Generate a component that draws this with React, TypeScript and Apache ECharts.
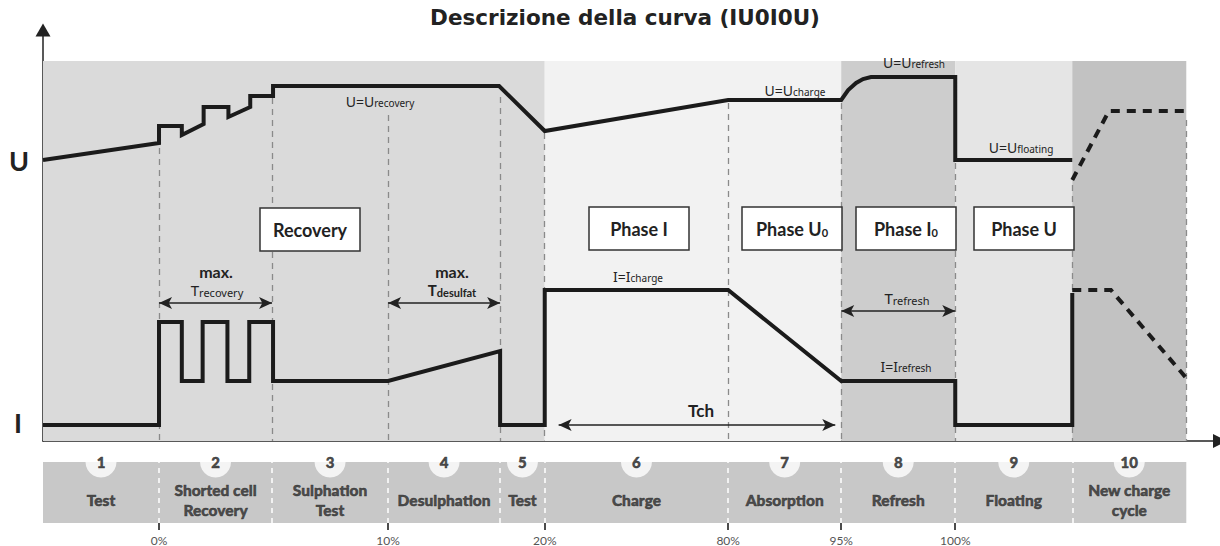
import React, { useEffect, useRef } from "react";
import * as echarts from "echarts";

// ---------- data ----------
const stageBounds = [0, 117, 231, 348, 461, 506, 691, 805, 920, 1038, 1153];
const stageNumbers = ["1", "2", "3", "4", "5", "6", "7", "8", "9", "10"];
const stageNames = [
  "Test",
  "Shorted cell\nRecovery",
  "Sulphation\nTest",
  "Desulphation",
  "Test",
  "Charge",
  "Absorption",
  "Refresh",
  "Floating",
  "New charge\ncycle",
];
const percentTicks = [117, 348, 506, 691, 805, 920];
const percentLabels = ["0%", "10%", "20%", "80%", "95%", "100%"];
const phaseZones = [
  [0, 506],
  [506, 805],
  [805, 920],
  [920, 1038],
  [1038, 1153],
];
const zoneTop = 380;
const guideTops = [293, 343, 326, 344, 308, 338, 338, 278, 256, 321];

const voltage = [
  [0, 281], [117, 298], [117, 315], [140, 315], [140, 306], [162, 317], [162, 334],
  [187, 334], [187, 324], [209, 334], [209, 345], [232, 345], [232, 355], [460, 355],
  [506, 310], [691, 341], [805, 341], [812, 351], [820, 358], [827, 362], [835, 364],
  [920, 364], [920, 281], [1038, 281],
];
const voltageNext = [[1038, 261], [1075, 330], [1153, 330]];
const current = [
  [0, 16], [117, 16], [117, 119], [140, 119], [140, 60], [161, 60], [161, 119],
  [186, 119], [186, 60], [208, 60], [208, 119], [232, 119], [232, 60], [348, 60],
  [461, 90], [461, 16], [506, 16], [506, 151], [691, 151], [805, 60], [920, 60],
  [920, 16], [1038, 16], [1038, 148],
];
const currentNext = [[1038, 151], [1077, 151], [1153, 63]];
const durationArrows = [
  [[117, 138], [231, 138]],
  [[348, 138], [461, 138]],
  [[805, 130], [920, 130]],
  [[520, 16], [799, 16]],
];

// ---------- styles ----------
const FONT = 'Lato, "Noto Sans", sans-serif';
const FONT2 = '"Noto Sans", "Open Sans", sans-serif';
const zoneColors = ["#dadada", "#f2f2f2", "#cdcdcd", "#e5e5e5", "#c2c2c2"];
const INK = "#1b1b1b";

const stageCenters = stageNumbers.map((_, i) => (stageBounds[i] + stageBounds[i + 1]) / 2);

const richBase = (main: number, sub: number, weight: any = "normal", family = FONT) => ({
  m: { fontSize: main, fontFamily: family, fontWeight: weight, fill: "#222", color: "#222", verticalAlign: "bottom" },
  s: { fontSize: sub, fontFamily: family, fontWeight: weight, fill: "#222", color: "#222", verticalAlign: "bottom" },
});

const textEl = (
  x: number,
  y: number,
  text: string,
  main = 14,
  sub = 10,
  weight: any = "normal",
  family = FONT2
) => ({
  type: "text",
  x,
  y,
  z: 100,
  style: {
    text,
    align: "center",
    verticalAlign: "middle",
    rich: richBase(main, sub, weight, family),
  },
});

const boxEl = (x: number, y: number, text: string) => ({
  type: "group",
  z: 100,
  children: [
    {
      type: "rect",
      z: 100,
      shape: { x, y, width: 100, height: 43 },
      style: { fill: "#fff", stroke: "#333", lineWidth: 1.5 },
    },
    {
      type: "text",
      z: 101,
      x: x + 50,
      y: y + 22,
      style: {
        text,
        align: "center",
        verticalAlign: "middle",
        rich: richBase(18, 11, "bold", FONT),
      },
    },
  ],
});

function buildOption(): any {
  return {
    animation: false,
    backgroundColor: "#fff",
    grid: [
      { left: 43, top: 30, width: 1187, height: 411 },
      { left: 43, top: 462, width: 1187, height: 63 },
    ],
    xAxis: [
      {
        gridIndex: 0,
        type: "value",
        min: 0,
        max: 1187,
        axisLine: {
          show: true,
          symbol: ["none", "triangle"],
          symbolSize: [14, 14],
          lineStyle: { color: "#222", width: 1.5 },
        },
        axisTick: { show: false },
        axisLabel: { show: false },
        splitLine: { show: false },
      },
      {
        gridIndex: 1,
        type: "value",
        min: 0,
        max: 1187,
        axisLine: { show: false },
        axisTick: {
          show: true,
          customValues: percentTicks,
          length: 7,
          lineStyle: { color: "#111", width: 1.5 },
        },
        axisLabel: {
          show: true,
          customValues: percentTicks,
          formatter: (v: number) => percentLabels[percentTicks.indexOf(v)] ?? "",
          color: "#555",
          fontFamily: FONT,
          fontSize: 12,
          margin: 11,
        },
        splitLine: { show: false },
      },
    ],
    yAxis: [
      {
        gridIndex: 0,
        type: "value",
        min: 0,
        max: 411,
        axisLine: {
          show: true,
          symbol: ["none", "triangle"],
          symbolSize: [15, 13],
          lineStyle: { color: "#222", width: 1.5 },
        },
        axisTick: { show: false },
        axisLabel: { show: false },
        splitLine: { show: false },
      },
      { gridIndex: 1, type: "value", min: 0, max: 1, show: false },
    ],
    series: [
      {
        name: "zones",
        type: "line",
        data: [[0, 0]],
        showSymbol: false,
        lineStyle: { width: 0 },
        z: 1,
        silent: true,
        markArea: {
          silent: true,
          data: phaseZones.map((zn, i) => [
            { xAxis: zn[0], yAxis: 0, itemStyle: { color: zoneColors[i] } },
            { xAxis: zn[1], yAxis: zoneTop },
          ]),
        },
        markLine: {
          silent: true,
          symbol: ["none", "none"],
          label: { show: false },
          lineStyle: { type: [6, 5], color: "#8a8a8a", width: 1.3 },
          data: stageBounds.slice(1).map((x, i) => [
            { coord: [x, guideTops[i]] },
            { coord: [x, 0] },
          ]),
        },
      },
      {
        name: "U",
        type: "line",
        data: voltage,
        showSymbol: false,
        z: 5,
        lineStyle: { color: INK, width: 4, join: "miter", cap: "butt" },
      },
      {
        name: "U next",
        type: "line",
        data: voltageNext,
        showSymbol: false,
        z: 5,
        lineStyle: { color: INK, width: 4, type: [9, 7], join: "miter", cap: "butt" },
      },
      {
        name: "I",
        type: "line",
        data: current,
        showSymbol: false,
        z: 5,
        lineStyle: { color: INK, width: 4, join: "miter", cap: "butt" },
      },
      {
        name: "I next",
        type: "line",
        data: currentNext,
        showSymbol: false,
        z: 5,
        lineStyle: { color: INK, width: 4, type: [9, 7], join: "miter", cap: "butt" },
      },
      {
        name: "durations",
        type: "line",
        data: [[0, 0]],
        showSymbol: false,
        lineStyle: { width: 0 },
        z: 6,
        markLine: {
          silent: true,
          symbol: ["arrow", "arrow"],
          symbolSize: [9, 13],
          label: { show: false },
          lineStyle: { type: "solid", color: "#222", width: 1.5 },
          data: durationArrows.map((a) => [{ coord: a[0] }, { coord: a[1] }]),
        },
      },
      {
        name: "band",
        type: "line",
        xAxisIndex: 1,
        yAxisIndex: 1,
        data: [[0, 0]],
        showSymbol: false,
        lineStyle: { width: 0 },
        z: 1,
        markArea: {
          silent: true,
          data: [[
            { xAxis: stageBounds[0], yAxis: 0, itemStyle: { color: "#c8c8c8" } },
            { xAxis: stageBounds[stageBounds.length - 1], yAxis: 1 },
          ]],
        },
        markLine: {
          silent: true,
          symbol: ["none", "none"],
          label: { show: false },
          lineStyle: { type: [5, 5], color: "#fff", width: 1.5 },
          data: stageBounds.slice(1, -1).map((x) => [{ coord: [x, 0] }, { coord: [x, 1] }]),
        },
      },
      {
        name: "stage numbers",
        type: "scatter",
        xAxisIndex: 1,
        yAxisIndex: 1,
        clip: false,
        z: 4,
        symbolSize: 31,
        itemStyle: { color: "#fff" },
        data: stageCenters.map((c) => [c, 1]),
        label: {
          show: true,
          position: "inside",
          formatter: (p: any) => stageNumbers[p.dataIndex],
          fontFamily: FONT,
          fontWeight: 900,
          fontSize: 15,
          color: "#1e1e1e",
          textBorderColor: "#1e1e1e",
          textBorderWidth: 0.5,
        },
      },
      {
        name: "stage names",
        type: "scatter",
        xAxisIndex: 1,
        yAxisIndex: 1,
        clip: false,
        z: 4,
        symbolSize: 1,
        itemStyle: { color: "rgba(0,0,0,0)" },
        data: stageCenters.map((c) => [c, 0.38]),
        label: {
          show: true,
          position: "inside",
          formatter: (p: any) => stageNames[p.dataIndex],
          fontFamily: FONT,
          fontWeight: 900,
          fontSize: 15.5,
          lineHeight: 20,
          color: "#2a2a2a",
          textBorderColor: "#2a2a2a",
          textBorderWidth: 0.5,
        },
      },
    ],
    graphic: [
      {
        type: "text",
        x: 625,
        y: 17,
        z: 100,
        style: {
          text: "Descrizione della curva (IU0I0U)",
          align: "center",
          verticalAlign: "middle",
          fontFamily: '"DejaVu Sans", sans-serif',
          fontWeight: "bold",
          fontSize: 21.5,
          fill: "#222",
        },
      },
      textEl(19, 160, "{m|U}", 27, 10, "bold", FONT),
      textEl(18, 422, "{m|I}", 27, 10, "bold", FONT),
      textEl(380, 101, "{m|U=U}{s|recovery}"),
      textEl(795, 90, "{m|U=U}{s|charge}"),
      textEl(914, 62, "{m|U=U}{s|refresh}"),
      textEl(1021, 147, "{m|U=U}{s|floating}"),
      textEl(216, 271, "{m|max.}", 16, 10, "bold", FONT),
      textEl(217, 290, "{m|T}{s|recovery}", 15, 11),
      textEl(452, 271, "{m|max.}", 16, 10, "bold", FONT),
      textEl(452, 290, "{m|T}{s|desulfat}", 15, 11, "bold", FONT),
      textEl(638, 276, "{m|I=I}{s|charge}"),
      textEl(907, 298, "{m|T}{s|refresh}", 15, 11),
      textEl(906, 366, "{m|I=I}{s|refresh}"),
      textEl(701, 410, "{m|Tch}", 17, 10, "bold", FONT),
      boxEl(260, 208, "{m|Recovery}"),
      boxEl(589, 207, "{m|Phase I}"),
      boxEl(742, 207, "{m|Phase U}{s|0}"),
      boxEl(856, 207, "{m|Phase I}{s|0}"),
      boxEl(974, 207, "{m|Phase U}"),
    ],
  };
}

export default function App() {
  const ref = useRef<HTMLDivElement>(null);
  useEffect(() => {
    const chart = echarts.init(ref.current!, null, { renderer: "svg" });
    chart.setOption(buildOption());
    return () => chart.dispose();
  }, []);
  return (
    <div
      ref={ref}
      style={{ position: "absolute", left: 0, top: 0, width: 1220, height: 546 }}
    />
  );
}
